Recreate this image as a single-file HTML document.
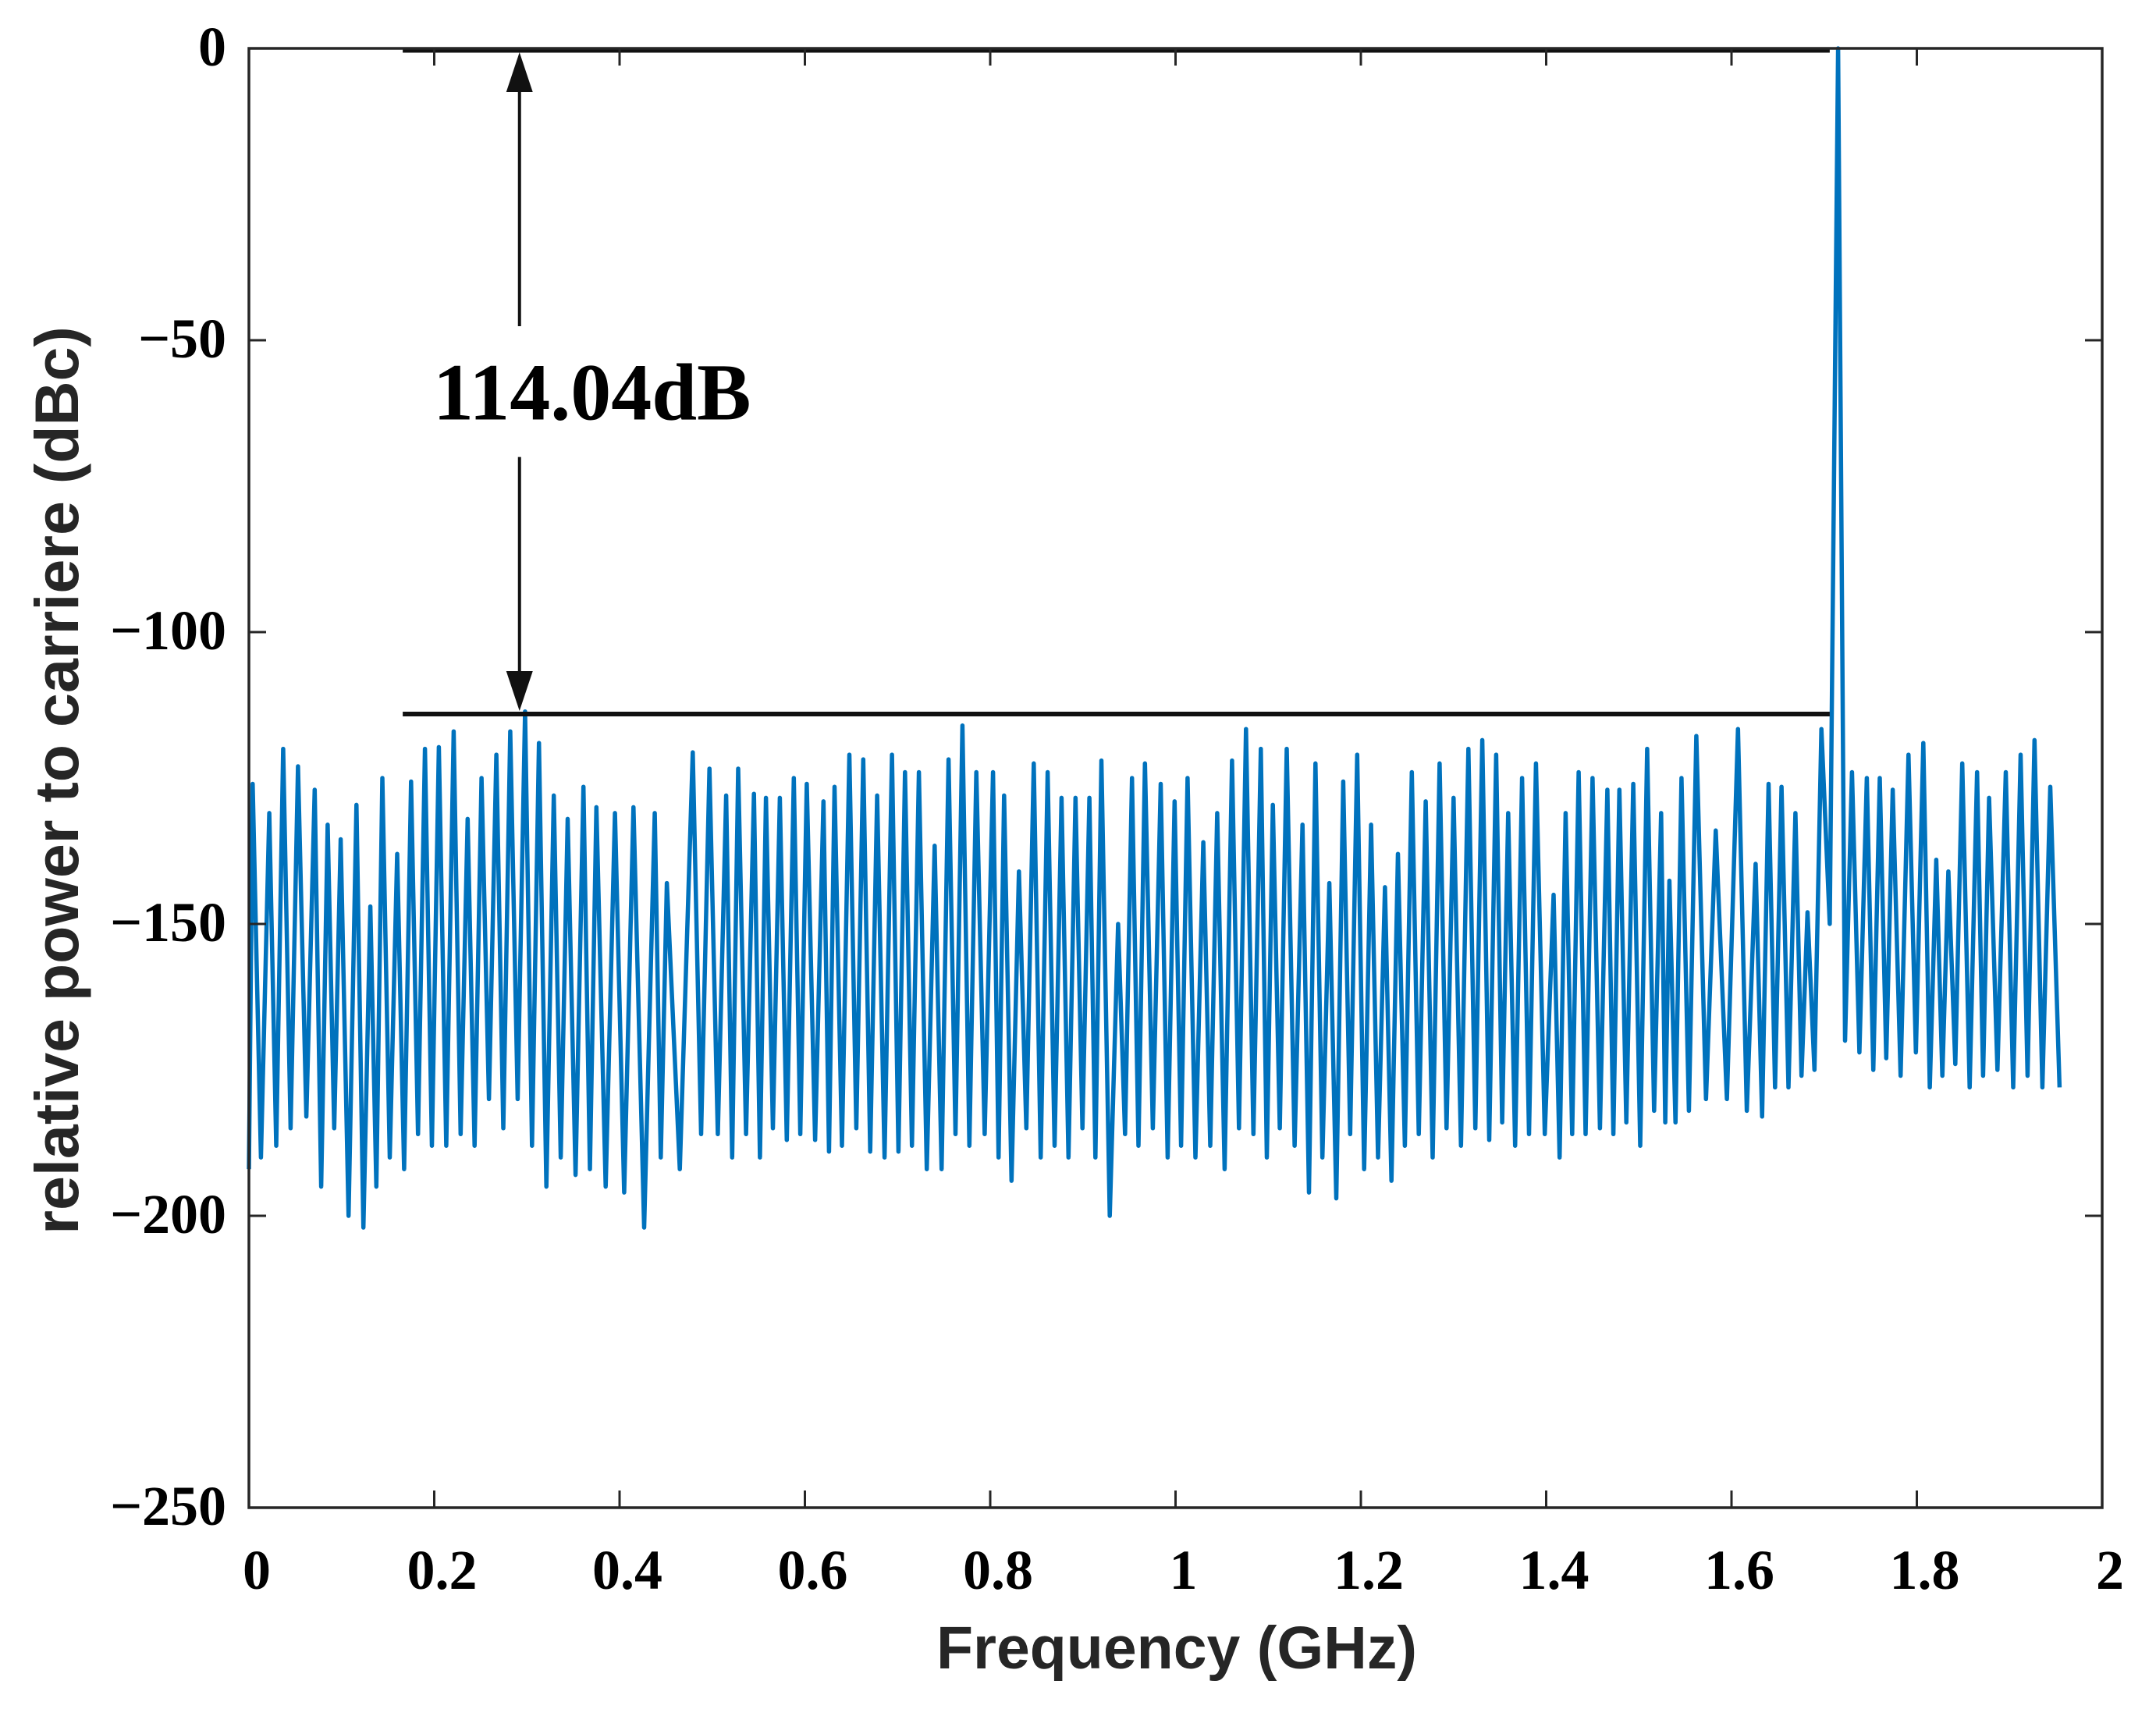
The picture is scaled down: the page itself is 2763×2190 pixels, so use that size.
<!DOCTYPE html>
<html><head><meta charset="utf-8"><style>
html,body{margin:0;padding:0;background:#fff;}
svg{display:block;}
</style></head><body>
<svg id="chart" width="2763" height="2190" viewBox="0 0 2763 2190" xmlns="http://www.w3.org/2000/svg">
<rect width="2763" height="2190" fill="#fff"/>
<g id="plot"></g>
</svg>
<script>
const xTicks = [0,0.2,0.4,0.6,0.8,1,1.2,1.4,1.6,1.8,2];
const xTickLabels = ["0","0.2","0.4","0.6","0.8","1","1.2","1.4","1.6","1.8","2"];
const yTicks = [0,-50,-100,-150,-200,-250];
const yTickLabels = ["0","\u221250","\u2212100","\u2212150","\u2212200","\u2212250"];
const peakFreq = [0.004,0.022,0.037,0.053,0.071,0.085,0.099,0.116,0.131,0.144,
0.160,0.175,0.190,0.205,0.221,0.236,0.251,0.267,0.282,0.298,
0.313,0.329,0.344,0.361,0.375,0.395,0.415,0.438,0.451,0.479,
0.497,0.515,0.528,0.545,0.558,0.573,0.588,0.602,0.620,0.632,
0.648,0.663,0.678,0.694,0.708,0.723,0.740,0.755,0.770,0.785,
0.803,0.815,0.831,0.847,0.862,0.877,0.892,0.907,0.920,0.938,
0.953,0.967,0.984,0.999,1.013,1.030,1.045,1.061,1.076,1.092,
1.105,1.120,1.137,1.151,1.166,1.181,1.196,1.211,1.226,1.240,
1.255,1.270,1.285,1.300,1.316,1.331,1.346,1.359,1.374,1.389,
1.408,1.421,1.435,1.450,1.466,1.479,1.494,1.509,1.524,1.533,
1.546,1.562,1.583,1.607,1.626,1.640,1.654,1.669,1.682,1.697,
1.715,1.730,1.746,1.760,1.774,1.791,1.807,1.821,1.834,1.849,
1.865,1.878,1.896,1.912,1.927,1.944];
const peakDb = [-126,-131,-120,-123,-127,-133,-135.5,-129.6,-147,-125,
-138,-125.6,-120,-119.7,-117,-132,-125,-121,-117,-113.6,
-119,-128,-132,-126.5,-130,-131,-130,-131,-143,-120.6,
-123.4,-128,-123.4,-127.7,-128.4,-128.4,-125,-126,-129,-126.5,
-121,-121.8,-128,-121,-124,-124,-136.6,-121.8,-116,-124,
-124,-128,-141,-122.5,-124,-128.4,-128.4,-128.4,-122,-150,
-125,-122.5,-126,-129,-125,-136,-131,-122,-116.6,-120,
-129.6,-120,-133,-122.5,-143,-125.6,-121,-133,-143.7,-138,
-124,-129,-122.5,-128.4,-120,-118.5,-121,-131,-125,-122.5,
-145,-131,-124,-125,-127,-127,-126,-120,-131,-142.6,
-125,-117.8,-134,-116.6,-139.7,-126,-126.5,-131,-148,-116.6,
0,-124,-125,-125,-127,-121,-119,-139,-141,-122.5,
-124,-128.4,-124,-121,-118.5,-126.5];
const troughDb = [-190,-188,-185,-183,-195,-185,-200,-202,-195,-190,
-192,-186,-188,-188,-186,-188,-180,-185,-180,-188,
-195,-190,-193,-192,-195,-196,-202,-190,-192,-186,
-186,-190,-186,-190,-185,-187,-186,-187,-189,-188,
-185,-189,-190,-189,-188,-192,-192,-186,-188,-186,
-190,-194,-185,-190,-188,-190,-185,-190,-200,-186,
-188,-185,-190,-188,-190,-188,-192,-185,-186,-190,
-185,-188,-196,-190,-197,-186,-192,-190,-194,-188,
-186,-190,-185,-188,-185,-187,-184,-188,-186,-186,
-190,-186,-186,-185,-186,-184,-188,-182,-184,-184,
-182,-180,-180,-182,-183,-178,-178,-176,-175,-150,
-170,-172,-175,-173,-176,-172,-178,-176,-174,-178,
-176,-175,-178,-176,-178];
const startPoint = [0,-192];
const endPoint = [1.954,-178];
const carrierLevel = 0;
const spurLevel = -114.04;
const refLineFreq = [0.166,1.706];
const arrowFreq = 0.292;
const textGap = [-47.6,-70];

const L=319,R=2694,T=62,B=1932;
const xMin=0,xMax=2,yMin=-250,yMax=0;
const xs=v=>L+(v-xMin)/(xMax-xMin)*(R-L);
const ys=v=>T+(yMax-v)/(yMax-yMin)*(B-T);
const NS="http://www.w3.org/2000/svg";
const plotG=document.getElementById('plot');
function mk(tag,attrs){const e=document.createElementNS(NS,tag);for(const k in attrs)e.setAttribute(k,attrs[k]);plotG.appendChild(e);return e;}

const pts=[[xs(startPoint[0]),ys(startPoint[1])]];
for(let i=0;i<peakFreq.length;i++){
  pts.push([xs(peakFreq[i]),ys(peakDb[i])]);
  if(i<troughDb.length && i+1<peakFreq.length){
    const fm=(peakFreq[i]+peakFreq[i+1])/2;
    pts.push([xs(fm),ys(troughDb[i])]);
  }
}
pts.push([xs(endPoint[0]),ys(endPoint[1])]);
const seriesLine=mk('polyline',{points:pts.map(p=>p[0].toFixed(1)+','+p[1].toFixed(1)).join(' '),fill:'none',stroke:'#0072BD','stroke-width':5.5,'stroke-linejoin':'round'});



const topLine=mk('line',{x1:xs(refLineFreq[0]),x2:xs(refLineFreq[1]),y1:ys(carrierLevel)+2,y2:ys(carrierLevel)+2,stroke:'#111','stroke-width':7});


const botLine=mk('line',{x1:xs(refLineFreq[0]),x2:xs(refLineFreq[1]),y1:ys(spurLevel),y2:ys(spurLevel),stroke:'#111','stroke-width':6});


const ax=xs(arrowFreq);
const a1=mk('line',{x1:ax,x2:ax,y1:ys(carrierLevel)+50,y2:ys(textGap[0]),stroke:'#111','stroke-width':4});


const a2=mk('line',{x1:ax,x2:ax,y1:ys(textGap[1]),y2:ys(spurLevel)-50,stroke:'#111','stroke-width':4});


const h1=mk('polygon',{points:`${ax},${ys(carrierLevel)+5} ${ax-17},${ys(carrierLevel)+56} ${ax+17},${ys(carrierLevel)+56}`,fill:'#111'});


const h2=mk('polygon',{points:`${ax},${ys(spurLevel)-4} ${ax-17},${ys(spurLevel)-55} ${ax+17},${ys(spurLevel)-55}`,fill:'#111'});


const annot=mk('text',{x:ax+93,y:ys(-63.6),'text-anchor':'middle','font-family':'Liberation Serif, serif','font-weight':'bold','font-size':104,fill:'#000'});
annot.textContent='114.04dB';



const frame=mk('rect',{x:L,y:T,width:R-L,height:B-T,fill:'none',stroke:'#262626','stroke-width':3.5});


xTicks.forEach((v,i)=>{
  const x=xs(v);
  const t1=mk('line',{x1:x,x2:x,y1:B,y2:B-22,stroke:'#262626','stroke-width':3});
  
  
  const t2=mk('line',{x1:x,x2:x,y1:T,y2:T+22,stroke:'#262626','stroke-width':3});
  
  
  const tx=mk('text',{x:x+10,y:2036,'text-anchor':'middle','font-family':'Liberation Serif, serif','font-weight':'bold','font-size':72,fill:'#000'});
  tx.textContent=xTickLabels[i];
  
  
});
yTicks.forEach((v,i)=>{
  const y=ys(v);
  const t1=mk('line',{x1:L,x2:L+22,y1:y,y2:y,stroke:'#262626','stroke-width':3});
  
  
  const t2=mk('line',{x1:R,x2:R-22,y1:y,y2:y,stroke:'#262626','stroke-width':3});
  
  
  const tx=mk('text',{x:290,y:y+22,'text-anchor':'end','font-family':'Liberation Serif, serif','font-weight':'bold','font-size':72,fill:'#000'});
  tx.textContent=yTickLabels[i];
  
  
});
const xTitle=mk('text',{x:1508,y:2138,'text-anchor':'middle','font-family':'Liberation Sans, sans-serif','font-weight':'bold','font-size':77,fill:'#262626'});
xTitle.textContent='Frequency (GHz)';


const yTitle=mk('text',{x:0,y:0,transform:'translate(100,1000) rotate(-90)','text-anchor':'middle','font-family':'Liberation Sans, sans-serif','font-weight':'bold','font-size':79,fill:'#262626'});
yTitle.textContent='relative power to carriere (dBc)';


</script>
</body></html>
